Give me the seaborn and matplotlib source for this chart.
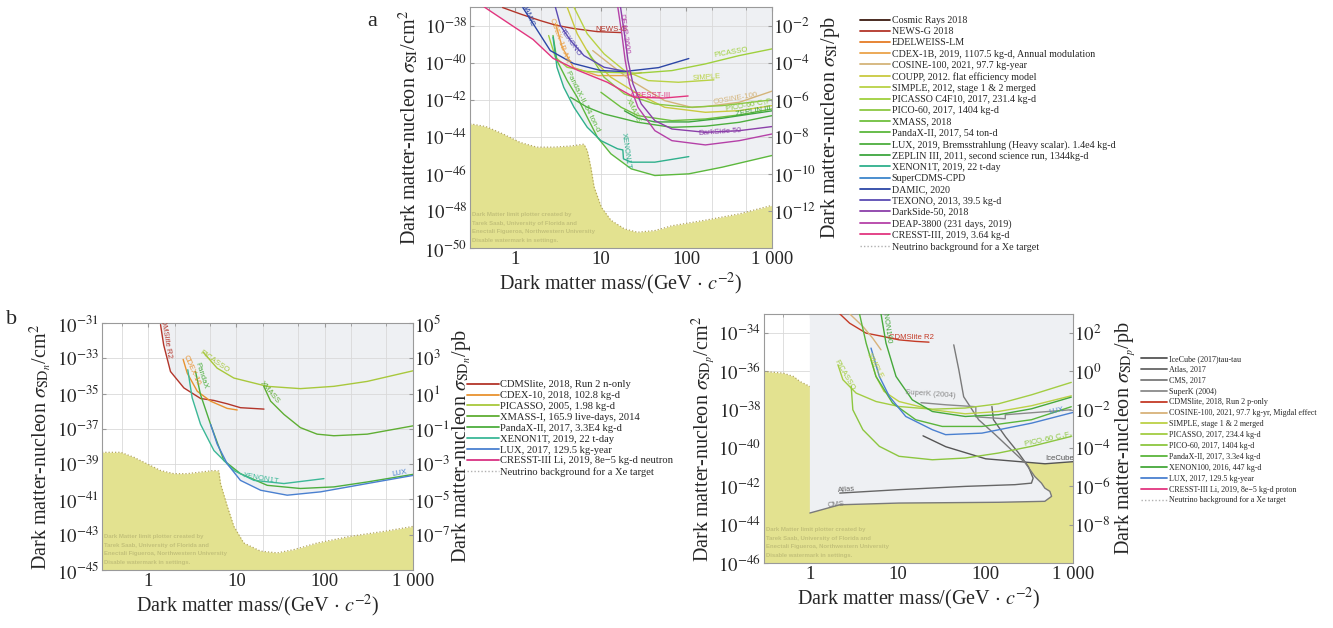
import numpy as np
import pandas as pd
import matplotlib
matplotlib.use("Agg")
import matplotlib.pyplot as plt
import seaborn as sns
from matplotlib.lines import Line2D
from matplotlib.ticker import FixedLocator, FuncFormatter, NullLocator, NullFormatter

sns.set_style("white")
plt.rcParams["font.family"] = ["Liberation Serif", "DejaVu Serif"]
plt.rcParams["mathtext.fontset"] = "stix"

# ---------------- data: masses in GeV/c^2, cross-sections as log10(cm^2) ----------------
# panel a (spin independent)
a_cresst_m = [0.44, 0.51, 1.0, 1.63, 2.8, 5.4, 12, 24.5, 55, 105]
a_cresst_s = [-37.0, -37.2, -38.1, -38.75, -39.77, -40.41, -41.06, -41.86, -41.91, -41.8]
a_newsg_m = [0.72, 1.2, 1.97, 3.0, 4.84, 9.2, 17.4]
a_newsg_s = [-37.03, -37.4, -37.73, -37.98, -38.16, -38.33, -38.38]
a_damic_m = [1.24, 1.63, 2.59, 4.84, 10.1, 18.9, 47.5, 107]
a_damic_s = [-37.03, -37.89, -39.35, -40.05, -40.43, -40.48, -40.27, -39.78]
a_texono_m = [2.97, 3.4, 4.47, 6.4, 11, 19]
a_texono_s = [-37.0, -38.0, -38.81, -39.62, -40.25, -40.46]
a_cdex_m = [2.97, 3.59, 4.84, 9.3, 19, 30]
a_cdex_s = [-37.89, -39.19, -40.27, -40.7, -40.7, -40.54]
a_cosine_m = [8.1, 12.2, 22.8, 56, 117, 167, 415, 1000]
a_cosine_s = [-39.35, -40.0, -40.97, -42.05, -42.42, -42.37, -42.14, -41.54]
a_coupp_m = [4.08, 5.35, 7.7, 13.2, 27.3, 56, 167, 415, 1000]
a_coupp_s = [-37.01, -38.45, -39.71, -40.79, -41.69, -42.41, -42.68, -42.59, -42.32]
a_simple_m = [4.9, 7.0, 11, 19, 36, 81, 210]
a_simple_s = [-37.01, -38.45, -39.53, -40.43, -40.97, -41.06, -40.93]
a_picasso_m = [2.48, 2.97, 4.08, 7.0, 11, 27.3, 68, 167, 415, 1000]
a_picasso_s = [-38.54, -39.71, -40.25, -40.48, -40.52, -40.57, -40.43, -40.07, -39.62, -39.26]
a_pico_m = [7.0, 11, 19, 43, 107, 263, 1000]
a_pico_s = [-39.35, -40.79, -41.69, -42.23, -42.41, -42.32, -42.01]
a_xmass_m = [10.1, 17.4, 27.3, 68, 167, 415, 1000]
a_xmass_s = [-41.6, -42.41, -42.86, -43.13, -43.04, -42.82, -42.5]
a_pandax_m = [2.79, 3.1, 4.08, 5.35, 7.0, 9.2, 13.2, 22.8, 43, 107, 263, 1000]
a_pandax_s = [-38.54, -39.89, -40.97, -41.87, -42.95, -44.03, -44.92, -45.73, -46.09, -46.0, -45.64, -45.01]
a_lux_m = [4.47, 7.0, 11, 27.3, 68, 167, 415, 1000]
a_lux_s = [-41.87, -42.41, -42.77, -43.22, -43.49, -43.43, -43.22, -42.86]
a_zeplin_m = [19, 27.3, 43, 107, 263, 1000]
a_zeplin_s = [-42.6, -43.0, -43.2, -43.2, -43.0, -42.6]
a_xenon_m = [2.79, 3.1, 3.72, 4.9, 7.0, 10.1, 15.8, 18.2, 18.5, 22.8, 43, 107]
a_xenon_s = [-38.63, -40.25, -41.33, -42.41, -43.49, -44.21, -44.65, -44.71, -45.19, -45.37, -45.37, -45.07]
a_darkside_m = [17.1, 19, 20.9, 23.9, 29.9, 43, 68, 167, 415, 1000]
a_darkside_s = [-37.01, -38.45, -39.89, -41.15, -42.23, -43.13, -43.58, -43.76, -43.67, -43.45]
a_deap_m = [15.9, 17.7, 19.4, 21.8, 27.3, 43, 68, 167, 415, 1000]
a_deap_s = [-37.01, -38.45, -39.89, -41.15, -42.41, -43.67, -44.21, -44.44, -44.21, -43.85]
a_floor_m = [0.3, 0.46, 0.73, 1.15, 1.8, 2.84, 4.47, 6.4, 7.0, 7.7, 8.4, 10.2, 13.2, 19, 27, 43, 68, 167, 415, 1000]
a_floor_s = [-43.3, -43.45, -43.85, -44.3, -44.56, -44.56, -44.5, -44.4, -44.75, -45.64, -46.7, -47.8,
             -48.5, -48.97, -49.15, -49.06, -48.8, -48.5, -48.16, -47.7]

# panel b (spin dependent, neutron)
b_cdms_m = [1.38, 1.5, 1.79, 2.54, 3.93, 5.56, 7.87, 11.1, 20.5]
b_cdms_s = [-31.09, -32.25, -33.75, -34.68, -35.28, -35.39, -35.58, -35.8, -35.88]
b_cdex_m = [2.49, 2.77, 3.6, 5.09, 7.86, 10.2]
b_cdex_s = [-33.06, -33.84, -34.87, -35.43, -35.84, -35.93]
b_picasso_m = [4.2, 6.05, 9.35, 22.3, 53, 127, 303, 1000]
b_picasso_s = [-32.66, -33.56, -34.12, -34.59, -34.72, -34.59, -34.31, -33.71]
b_xmass_m = [20.4, 24.4, 34.5, 53, 82, 127, 303, 1000]
b_xmass_s = [-34.59, -35.43, -36.18, -36.93, -37.3, -37.39, -37.3, -36.83]
b_pandax_m = [3.44, 3.92, 5.09, 7.2, 11.1, 22.3, 53, 127, 303, 1000]
b_pandax_s = [-33.75, -35.06, -36.74, -38.79, -39.54, -40.2, -40.38, -40.29, -40.01, -39.58]
b_xenon_m = [2.81, 3.15, 3.92, 5.56, 9.35, 15.8, 34.5, 98]
b_xenon_s = [-33.65, -35.24, -36.74, -38.23, -39.36, -39.92, -40.1, -39.82]
b_lux_m = [5.09, 6.05, 7.86, 11.1, 18.8, 37.6, 90, 303, 1000]
b_lux_s = [-36.74, -37.86, -38.98, -39.92, -40.48, -40.76, -40.57, -40.1, -39.64]
b_floor_m = [0.3, 0.49, 0.69, 0.97, 1.38, 1.95, 2.77, 3.92, 5.56, 6.3, 6.6, 7.9, 9.35, 12.1, 18.8, 29, 45,
             82, 196, 470, 1000]
b_floor_s = [-38.33, -38.33, -38.61, -38.98, -39.36, -39.54, -39.54, -39.45, -39.36, -39.39, -40.1, -41.41,
             -42.53, -43.47, -43.93, -44.03, -43.84, -43.47, -43.09, -42.81, -42.53]

# panel c (spin dependent, proton)
c_icecube_m = [19.5, 35.5, 101, 480, 1000]
c_icecube_s = [-39.36, -39.93, -40.56, -40.82, -40.71]
c_atlas_m = [2.19, 10.4, 59, 218, 336, 351, 310, 238, 170, 124, 119]
c_atlas_s = [-42.35, -42.17, -42.0, -41.91, -41.83, -41.57, -40.97, -40.24, -39.41, -38.52, -37.83]
c_cms_m = [1.0, 2.19, 10.4, 141, 477, 570, 545, 477, 437, 366, 285, 198, 130, 84, 56.7, 49.9, 43.7]
c_cms_s = [-43.39, -42.96, -42.87, -42.83, -42.78, -42.52, -42.26, -42.09, -41.83, -41.48, -40.77, -40.09,
           -39.3, -38.52, -37.32, -35.91, -34.61]
c_superk_m = [18.5, 35.5, 78, 78, 169, 169, 950]
c_superk_s = [-37.63, -37.74, -37.84, -38.37, -38.47, -38.26, -38.0]
c_cdms_m = [2.19, 2.84, 4.38, 6.77, 10.4, 16.1, 22.8]
c_cdms_s = [-32.99, -33.48, -34.0, -34.17, -34.35, -34.43, -34.47]
c_cosine_m = [2.84, 4.02, 5.2, 6.47]
c_cosine_s = [-32.99, -33.65, -34.26, -34.87]
c_simple_m = [4.98, 5.67, 7.0, 10.4, 24.9, 59, 141, 336, 956]
c_simple_s = [-35.39, -36.26, -37.04, -37.57, -38.0, -38.21, -38.09, -37.79, -37.27]
c_picasso_m = [2.09, 2.38, 3.37, 5.69, 10.4, 24.9, 59, 141, 336, 956]
c_picasso_s = [-35.65, -36.43, -37.13, -37.57, -37.83, -37.97, -37.91, -37.69, -37.22, -36.57]
c_pico_m = [2.96, 3.09, 4.02, 6.2, 10.4, 24.9, 59, 141, 336, 956]
c_pico_s = [-36.78, -38.0, -39.04, -39.91, -40.43, -40.61, -40.52, -40.26, -39.91, -39.39]
c_pandax_m = [3.68, 4.38, 5.67, 8.76, 16.1, 32.3, 91.5, 336, 956]
c_pandax_s = [-32.99, -34.52, -36.26, -37.65, -38.52, -38.87, -38.87, -38.52, -37.84]
c_xenon100_m = [6.47, 7.38, 9.6, 14.7, 24.9, 59, 141, 336, 956]
c_xenon100_s = [-32.99, -34.52, -36.26, -37.48, -38.09, -38.35, -38.26, -37.95, -37.34]
c_lux_m = [4.98, 6.2, 8.05, 12.4, 24.9, 35.3, 91.5, 336, 1000]
c_lux_s = [-34.78, -36.26, -37.3, -38.35, -39.04, -39.3, -39.22, -38.7, -38.14]
c_floor_m = [0.3, 0.5, 0.65, 0.77, 1.0, 3.0, 6.0, 10, 30, 1000]
c_floor_s = [-36.0, -36.09, -36.26, -36.52, -36.78, -37.3, -37.4, -38.5, -40.0, -40.0]

a_labels = ["Cosmic Rays 2018", "NEWS-G 2018", "EDELWEISS-LM",
            "CDEX-1B, 2019, 1107.5 kg-d, Annual modulation", "COSINE-100, 2021, 97.7 kg-year",
            "COUPP, 2012. flat efficiency model", "SIMPLE, 2012, stage 1 & 2 merged",
            "PICASSO C4F10, 2017, 231.4 kg-d", "PICO-60, 2017, 1404 kg-d", "XMASS, 2018",
            "PandaX-II, 2017, 54 ton-d", "LUX, 2019, Bremsstrahlung (Heavy scalar). 1.4e4 kg-d",
            "ZEPLIN III, 2011, second science run, 1344kg-d", "XENON1T, 2019, 22 t-day",
            "SuperCDMS-CPD", "DAMIC, 2020", "TEXONO, 2013, 39.5 kg-d", "DarkSide-50, 2018",
            "DEAP-3800 (231 days, 2019)", "CRESST-III, 2019, 3.64 kg-d",
            "Neutrino background for a Xe target"]
b_labels = ["CDMSlite, 2018, Run 2 n-only", "CDEX-10, 2018, 102.8 kg-d", "PICASSO, 2005, 1.98 kg-d",
            "XMASS-I, 165.9 live-days, 2014", "PandaX-II, 2017, 3.3E4 kg-d", "XENON1T, 2019, 22 t-day",
            "LUX, 2017, 129.5 kg-year", "CRESST-III Li, 2019, 8e\u22125 kg-d neutron",
            "Neutrino background for a Xe target"]
c_labels = ["IceCube (2017)tau-tau", "Atlas, 2017", "CMS, 2017", "SuperK (2004)",
            "CDMSlite, 2018, Run 2 p-only", "COSINE-100, 2021, 97.7 kg-yr, Migdal effect",
            "SIMPLE, stage 1 & 2 merged", "PICASSO, 2017, 234.4 kg-d", "PICO-60, 2017, 1404 kg-d",
            "PandaX-II, 2017, 3.3e4 kg-d", "XENON100, 2016, 447 kg-d", "LUX, 2017, 129.5 kg-year",
            "CRESST-III Li, 2019, 8e\u22125 kg-d proton", "Neutrino background for a Xe target"]

# axis tick exponents
a_left_ticks = [-50, -48, -46, -44, -42, -40, -38]
a_right_ticks = [-12, -10, -8, -6, -4, -2]
b_left_ticks = [-45, -43, -41, -39, -37, -35, -33, -31]
b_right_ticks = [-7, -5, -3, -1, 1, 3, 5]
c_left_ticks = [-46, -44, -42, -40, -38, -36, -34]
c_right_ticks = [-8, -6, -4, -2, 0, 2]

# ---------------- styles ----------------
a_colors = ["#3b1a10", "#b3352a", "#e57c25", "#eaa24a", "#d4b47a", "#c9c93f", "#b9d245", "#9fd03d",
            "#8cc843", "#6fbf3e", "#5cb83d", "#4dae3e", "#3ea63f", "#2fb08c", "#3d86cc", "#2c46a6",
            "#5b4bb3", "#8b3fa9", "#b541a8", "#e2357f"]
b_colors = ["#b3352a", "#e8922f", "#a8c83c", "#5fae33", "#4dae3e", "#3cb897", "#4a80d0", "#d93282"]
c_colors = ["#555555", "#666666", "#7a7a7a", "#8a8a8a", "#c43a26", "#d8b27a", "#bcd145", "#a3cd42",
            "#8cc63f", "#5ab53c", "#45a83a", "#4a80d0", "#e2357f"]
GREY = "#eef0f3"
YELLOW = "#e3e290"
EDGE = "#b4a75e"

W, H = 1333, 628
fig = plt.figure(figsize=(W / 100, H / 100), dpi=100)
axa = fig.add_axes([470 / W, 1 - 248 / H, 302 / W, 241 / H])
axb = fig.add_axes([102 / W, 1 - 570 / H, 311 / W, 247 / H])
axc = fig.add_axes([764 / W, 1 - 563 / H, 309 / W, 249 / H])

TICKFS = 13.5
LABFS = 14.5


def setup(ax, ylim, lticks, rticks, ylabel, rlabel, gridz, lpad=2, rpad=2):
    ax.set_xscale("log")
    ax.set_yscale("log")
    ax.set_xlim(0.3, 1000)
    ax.set_ylim(10.0 ** ylim[0], 10.0 ** ylim[1])
    ax.xaxis.set_major_locator(FixedLocator([1, 10, 100, 1000]))
    ax.xaxis.set_major_formatter(FuncFormatter(
        lambda v, p: {1: "1", 10: "10", 100: "100", 1000: "1 000"}.get(int(round(v)), "")))
    ax.xaxis.set_minor_locator(FixedLocator([0.5, 2, 5, 20, 50, 200, 500]))
    ax.xaxis.set_minor_formatter(NullFormatter())
    ax.yaxis.set_major_locator(FixedLocator([10.0 ** k for k in lticks]))
    ax.yaxis.set_major_formatter(FuncFormatter(lambda v, p: r"$10^{%d}$" % round(np.log10(v))))
    ax.yaxis.set_minor_locator(NullLocator())
    ax.grid(True, which="both", axis="x", color="#d9d9d9", lw=0.6)
    ax.grid(True, which="major", axis="y", color="#d9d9d9", lw=0.6)
    ax.set_axisbelow(gridz)
    ax.tick_params(axis="both", which="both", direction="in", length=3, color="#999999",
                   labelsize=TICKFS, top=True, pad=2)
    ax.tick_params(axis="both", which="minor", length=2)
    for sp in ax.spines.values():
        sp.set_color("#9a9a9a")
        sp.set_linewidth(0.8)
    ax.set_xlabel(r"Dark matter mass/(GeV $\cdot$ $c^{-2}$)", fontsize=LABFS, labelpad=2)
    ax.set_ylabel(ylabel, fontsize=LABFS, labelpad=lpad)
    tw = ax.twinx()
    tw.set_yscale("log")
    tw.set_ylim(10.0 ** (ylim[0] + 36), 10.0 ** (ylim[1] + 36))
    tw.yaxis.set_major_locator(FixedLocator([10.0 ** k for k in rticks]))
    tw.yaxis.set_major_formatter(FuncFormatter(lambda v, p: r"$10^{%d}$" % round(np.log10(v))))
    tw.yaxis.set_minor_locator(NullLocator())
    tw.tick_params(axis="y", direction="in", length=3, color="#999999", labelsize=TICKFS, pad=1)
    for sp in tw.spines.values():
        sp.set_visible(False)
    tw.set_ylabel(rlabel, fontsize=LABFS, labelpad=rpad)
    return tw


def excluded(ax, m, s, z=1.0):
    m = np.asarray(m, float)
    y = 10.0 ** np.asarray(s, float)
    ax.fill(np.r_[m, m[-1], m[0]], np.r_[y, 1e-10, 1e-10], color=GREY, lw=0, zorder=z)


def curve(ax, m, s, color, lw=1.0):
    df = pd.DataFrame({"m": m, "s": 10.0 ** np.asarray(s, float)})
    sns.lineplot(data=df, x="m", y="s", ax=ax, color=color, lw=lw, sort=False,
                 estimator=None, legend=False, zorder=3)


def floor(ax, m, s, z):
    y = 10.0 ** np.asarray(s, float)
    ax.fill_between(m, 1e-60, y, color=YELLOW, lw=0, zorder=z)
    ax.plot(m, y, ls=(0, (1, 1.6)), color=EDGE, lw=0.9, zorder=z + 0.05)


def watermark(ax):
    ax.text(0.006, 0.022, "Dark Matter limit plotter created by\nTarek Saab, University of Florida and\n"
            "Enectali Figueroa, Northwestern University\nDisable watermark in settings.",
            transform=ax.transAxes, fontsize=4.3, color="#c3c17a", fontweight="bold",
            family="Liberation Sans", linespacing=1.85, va="bottom", ha="left", zorder=2.5)


def tag(ax, x, s, text, color, rot=0, fs=5.6):
    ax.text(x, 10.0 ** s, text, color=color, rotation=rot, fontsize=fs, family="Liberation Sans",
            ha="center", va="center", zorder=4, clip_on=True, rotation_mode="anchor")


# ---------------- panel a ----------------
twa = setup(axa, (-50, -37), a_left_ticks, a_right_ticks,
            r"Dark matter-nucleon $\sigma_{\rm SI}$/cm$^2$",
            r"Dark matter-nucleon $\sigma_{\rm SI}$/pb", "line")
a_curves = [(a_newsg_m, a_newsg_s, 1), (a_cdex_m, a_cdex_s, 3), (a_cosine_m, a_cosine_s, 4),
            (a_coupp_m, a_coupp_s, 5), (a_simple_m, a_simple_s, 6), (a_picasso_m, a_picasso_s, 7),
            (a_pico_m, a_pico_s, 8), (a_xmass_m, a_xmass_s, 9), (a_pandax_m, a_pandax_s, 10),
            (a_lux_m, a_lux_s, 11), (a_zeplin_m, a_zeplin_s, 12), (a_xenon_m, a_xenon_s, 13),
            (a_damic_m, a_damic_s, 15), (a_texono_m, a_texono_s, 16), (a_darkside_m, a_darkside_s, 17),
            (a_deap_m, a_deap_s, 18), (a_cresst_m, a_cresst_s, 19)]
for m, s, ci in a_curves:
    excluded(axa, m, s)
floor(axa, a_floor_m, a_floor_s, 2.0)
for m, s, ci in a_curves:
    curve(axa, m, s, a_colors[ci])
watermark(axa)
tag(axa, 13.2, -38.2, "NEWS-G", a_colors[1])
tag(axa, 38, -41.75, "CRESST-III", a_colors[19])
tag(axa, 330, -39.45, "PICASSO", a_colors[7], rot=10)
tag(axa, 175, -40.78, "SIMPLE", a_colors[6], rot=4)
tag(axa, 380, -41.95, "COSINE-100", a_colors[4], rot=10)
tag(axa, 560, -42.3, r"PICO-60 C$_3$F$_8$", a_colors[8], rot=10)
tag(axa, 600, -42.62, "ZEPLIN III", a_colors[12], rot=10)
tag(axa, 250, -43.75, "DarkSide-50", a_colors[17], rot=4)
tag(axa, 20, -44.75, "XENON1T", a_colors[13], rot=-82)
tag(axa, 6.4, -42.05, "PandaX-II, 54 ton-d", a_colors[10], rot=-63)
tag(axa, 24, -42.6, "XMASS", a_colors[9], rot=-65)
tag(axa, 18.5, -38.45, "DEAP-3600", a_colors[18], rot=-82)
tag(axa, 4.5, -38.9, "TEXONO", a_colors[16], rot=-55)
tag(axa, 3.3, -38.8, "CDEX-1B AM", a_colors[3], rot=-70)
tag(axa, 1.42, -37.4, "DAMIC", a_colors[15], rot=-68)

# ---------------- panel b ----------------
twb = setup(axb, (-45, -31), b_left_ticks, b_right_ticks,
            r"Dark matter-nucleon $\sigma_{{\rm SD}_n}$/cm$^2$",
            r"Dark matter-nucleon $\sigma_{{\rm SD}_n}$/pb", "line", rpad=0)
b_curves = [(b_cdms_m, b_cdms_s, 0), (b_cdex_m, b_cdex_s, 1), (b_picasso_m, b_picasso_s, 2),
            (b_xmass_m, b_xmass_s, 3), (b_pandax_m, b_pandax_s, 4), (b_xenon_m, b_xenon_s, 5),
            (b_lux_m, b_lux_s, 6)]
for m, s, ci in b_curves:
    excluded(axb, m, s)
floor(axb, b_floor_m, b_floor_s, 2.0)
for m, s, ci in b_curves:
    curve(axb, m, s, b_colors[ci])
watermark(axb)
tag(axb, 1.55, -31.75, "CDMSlite R2", b_colors[0], rot=-80)
tag(axb, 3.1, -33.7, "CDEX-10", b_colors[1], rot=-66)
tag(axb, 3.95, -34.0, "PandaX", b_colors[4], rot=-72)
tag(axb, 5.6, -33.2, "PICASSO", b_colors[2], rot=-35)
tag(axb, 24, -34.95, "XMASS", b_colors[3], rot=-50)
tag(axb, 19, -39.8, "XENON1T", b_colors[5], rot=-10)
tag(axb, 700, -39.5, "LUX", b_colors[6], rot=10)

# ---------------- panel c ----------------
twc = setup(axc, (-46, -33), c_left_ticks, c_right_ticks,
            r"Dark matter-nucleon $\sigma_{{\rm SD}_p}$/cm$^2$",
            r"Dark matter-nucleon $\sigma_{{\rm SD}_p}$/pb", True, lpad=0)
c_curves = [(c_icecube_m, c_icecube_s, 0), (c_atlas_m, c_atlas_s, 1), (c_cms_m, c_cms_s, 2),
            (c_superk_m, c_superk_s, 3), (c_cdms_m, c_cdms_s, 4), (c_cosine_m, c_cosine_s, 5),
            (c_simple_m, c_simple_s, 6), (c_picasso_m, c_picasso_s, 7), (c_pico_m, c_pico_s, 8),
            (c_pandax_m, c_pandax_s, 9), (c_xenon100_m, c_xenon100_s, 10), (c_lux_m, c_lux_s, 11)]
floor(axc, c_floor_m, c_floor_s, 0.8)
for m, s, ci in c_curves:
    excluded(axc, m, s, z=1.0)
for m, s, ci in c_curves:
    curve(axc, m, s, c_colors[ci])
watermark(axc)
tag(axc, 14.5, -34.25, "CDMSlite R2", c_colors[4])
tag(axc, 7.4, -33.5, "XENON100", c_colors[10], rot=-82)
tag(axc, 5.4, -35.7, "SIMPLE", c_colors[6], rot=-62)
tag(axc, 2.45, -36.2, "PICASSO", c_colors[7], rot=-60)
tag(axc, 24, -37.2, "SuperK (2004)", c_colors[3], rot=-4)
tag(axc, 650, -38.05, "LUX", c_colors[11], rot=12)
tag(axc, 520, -39.55, r"PICO-60 C$_3$F$_8$", c_colors[8], rot=12)
tag(axc, 700, -40.55, "IceCube", c_colors[0])
tag(axc, 2.6, -42.15, "Atlas", c_colors[1], rot=5)
tag(axc, 2.0, -42.95, "CMS", c_colors[2], rot=5)

# ---------------- legends ----------------
def make_handles(colors):
    hs = [Line2D([], [], color=c, lw=1.3) for c in colors]
    hs.append(Line2D([], [], color="#b0b0b0", lw=1.0, ls=(0, (1, 1.5))))
    return hs


fig.legend(make_handles(a_colors), a_labels, loc="upper left", bbox_to_anchor=(860 / W, 1 - 16 / H),
           frameon=False, fontsize=7.2, handlelength=3.0, handletextpad=0.15, labelspacing=0.22,
           borderpad=0, borderaxespad=0)
fig.legend(make_handles(b_colors), b_labels, loc="upper left", bbox_to_anchor=(467 / W, 1 - 380 / H),
           frameon=False, fontsize=7.6, handlelength=3.0, handletextpad=0.15, labelspacing=0.14,
           borderpad=0, borderaxespad=0)
fig.legend(make_handles(c_colors), c_labels, loc="upper left", bbox_to_anchor=(1141 / W, 1 - 355 / H),
           frameon=False, fontsize=5.75, handlelength=3.3, handletextpad=0.15, labelspacing=0.36,
           borderpad=0, borderaxespad=0)

fig.text(372 / W, 1 - 22 / H, "a", fontsize=16, ha="center", va="center")
fig.text(12 / W, 1 - 320 / H, "b", fontsize=16, ha="center", va="center")

fig.savefig("out.png", dpi=100)
